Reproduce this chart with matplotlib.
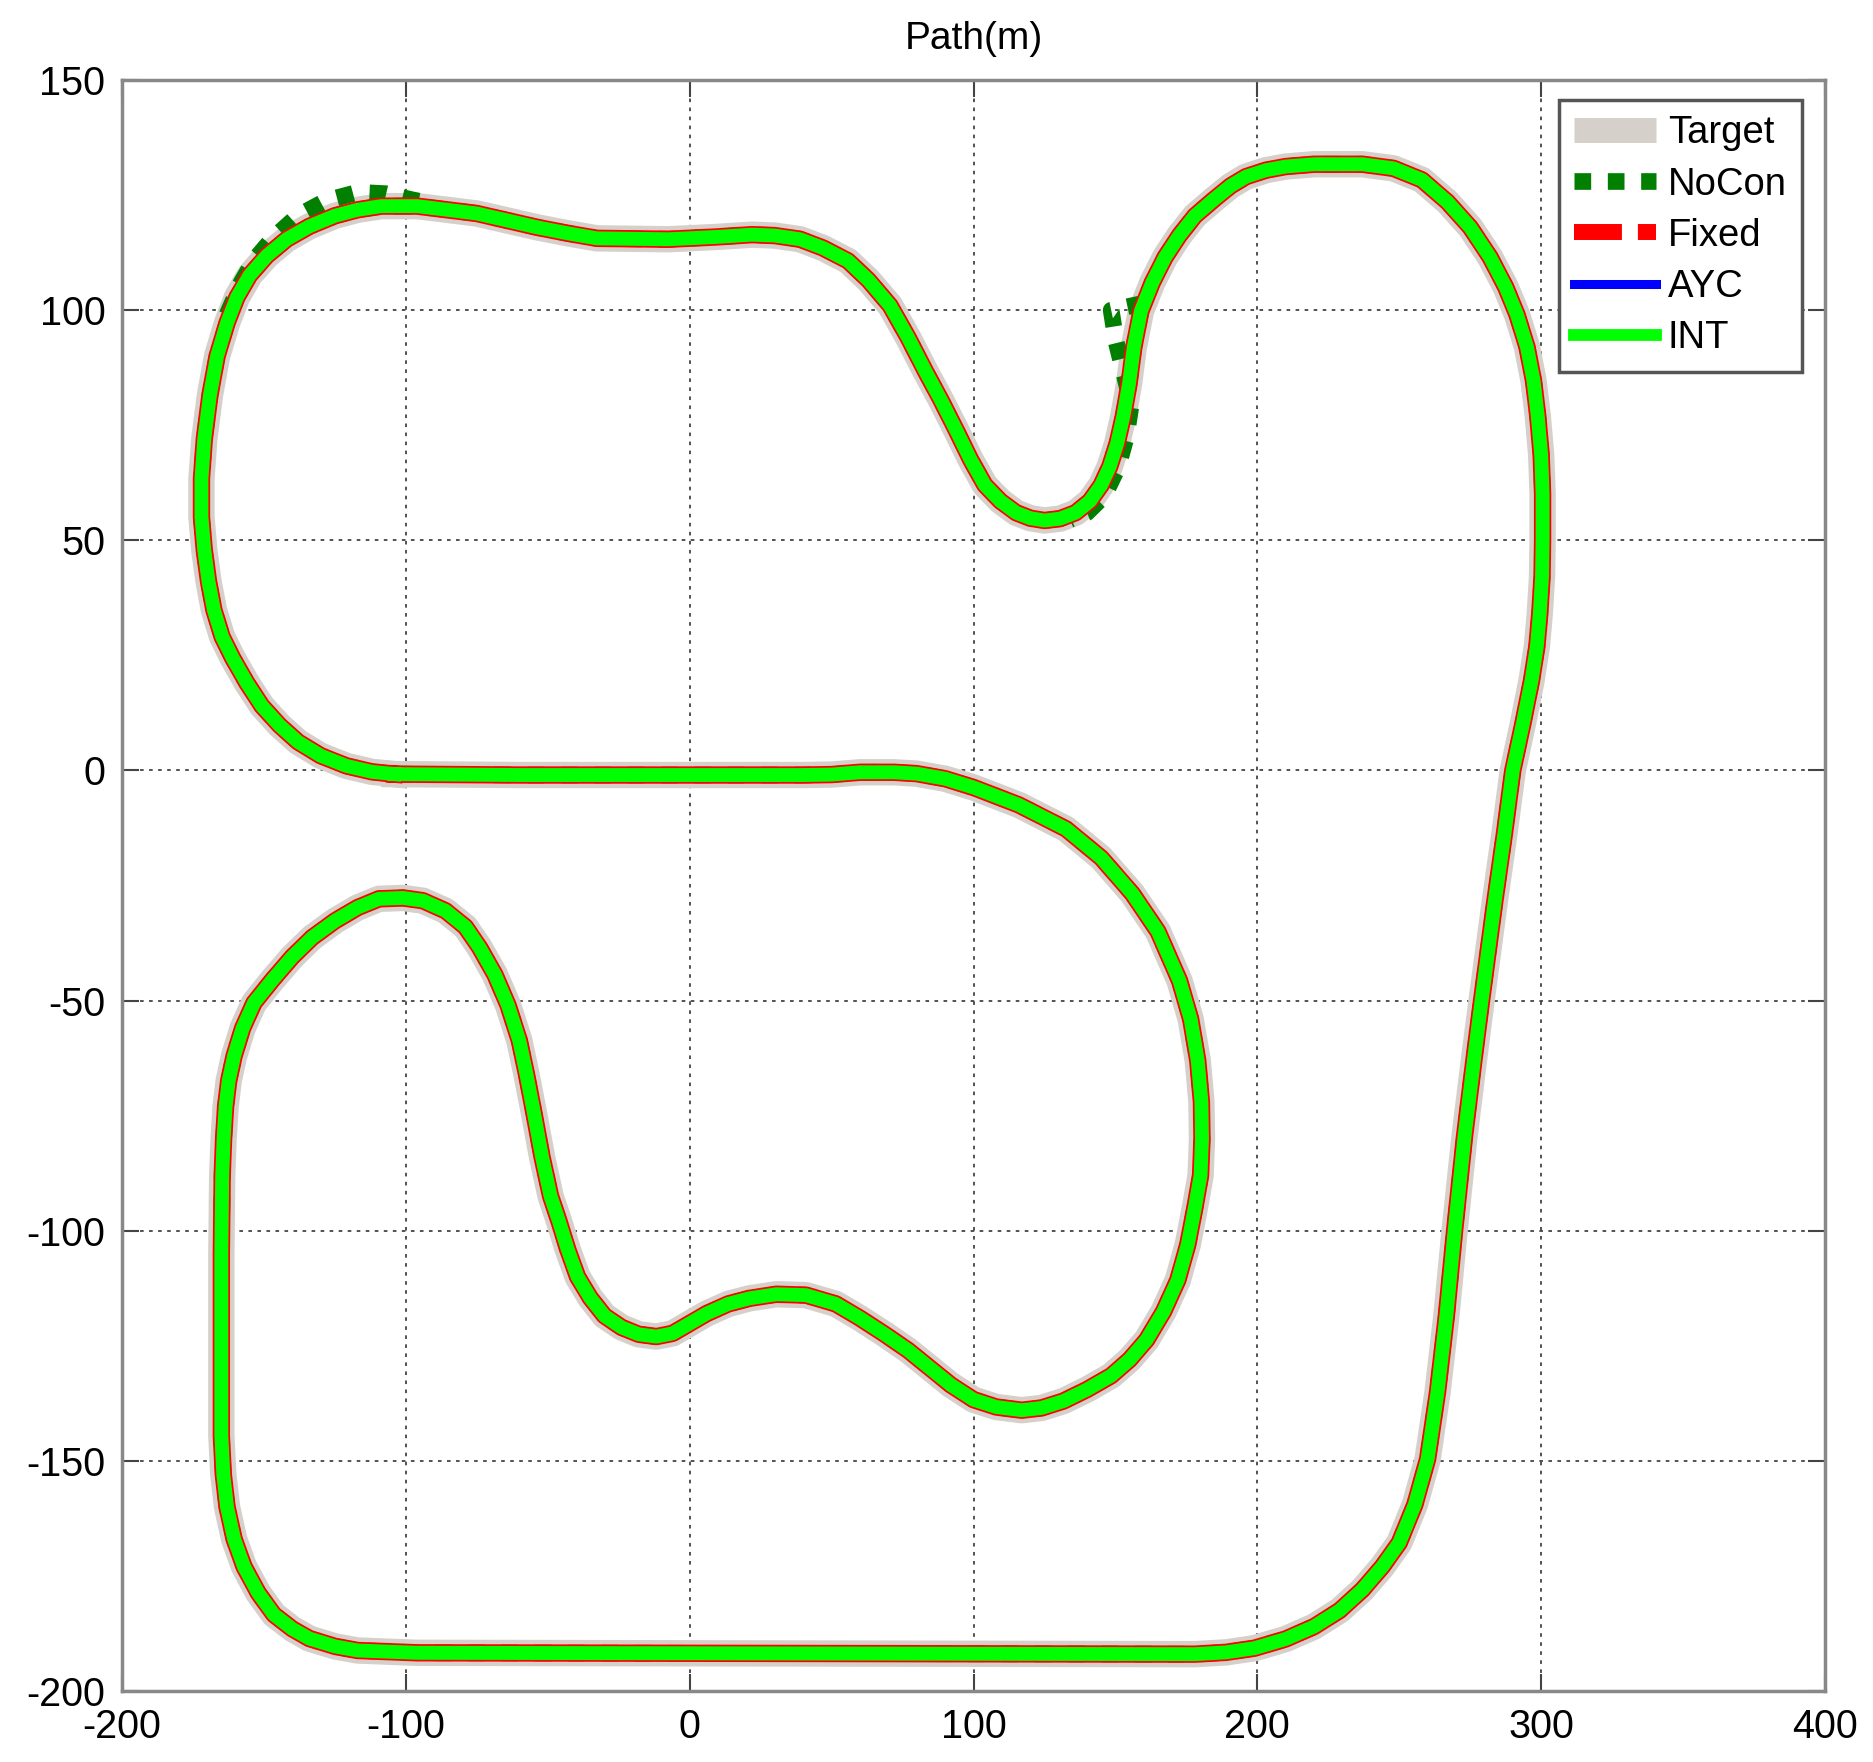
import numpy as np
import matplotlib
matplotlib.use("Agg")
import matplotlib.pyplot as plt
from matplotlib.lines import Line2D

plt.rcParams['font.family'] = ['Liberation Sans', 'DejaVu Sans']
plt.rcParams['axes.unicode_minus'] = False

# centre line of the loop (INT)
path_x = [-104, -60, 0, 40, 50, 60, 72, 80, 90, 100, 116, 132.6, 145, 156, 165, 172.6, 176.5, 179,
          180.3, 180.5, 180, 178, 175.5, 172, 167, 161, 155, 148.5, 140, 131.7, 124, 117, 108, 100,
          92, 85, 77, 68.5, 60, 51.5, 41, 30.5, 21, 13.6, 6, -1, -6, -11.7, -18, -24, -30, -35,
          -39.5, -43, -46, -49, -52, -55, -57.5, -60, -64, -68.6, -74, -79, -86, -94, -101, -109.5,
          -117, -125, -133, -140, -147, -153.5, -157.5, -160.5, -162.4, -163.5, -164.2, -164.7,
          -165, -165, -164.3, -163, -160.5, -157, -152, -146.5, -140, -134, -125, -117, -96, 178,
          189, 199, 210, 220, 229, 237, 244, 250, 255.5, 260, 263.5, 266.6, 269.5, 273, 276.5, 279,
          283.7, 287, 290, 293.5, 296.6, 298.5, 299.5, 300.3, 300.5, 300.5, 300, 298.8, 297.3, 295,
          291.5, 287.5, 282, 275, 267, 258, 248, 237, 220, 210, 203, 196, 190.6, 185, 178, 172.5,
          167.5, 163, 159, 156.5, 154.8, 152.8, 150.6, 148, 145, 141, 136, 130.5, 125, 120, 115,
          109.5, 104, 99, 94, 88.5, 83, 77, 70.6, 63, 55.8, 47, 38.9, 30, 22, 9.4, -7.5, -32.7, -43,
          -53.8, -75, -96, -108.6, -117, -125, -134, -142, -149, -155, -159.5, -163, -166.5, -169,
          -171, -172, -172, -171, -169.5, -167.6, -164.7, -161, -156, -150.7, -144.5, -138, -130,
          -121, -112, -104]
path_y = [-0.8, -1, -1, -1, -0.9, -0.4, -0.4, -0.7, -1.8, -3.7, -7.5, -12.7, -19, -26.8, -35, -45.7,
          -54, -63, -72, -80, -88, -95, -103, -110.7, -117.5, -123.7, -128, -131.5, -134.5, -137,
          -138.5, -139, -138.3, -136.7, -133.5, -130, -126, -122.4, -119, -115.9, -114, -113.8,
          -114.7, -115.9, -118, -120.5, -122.3, -123, -122.5, -121, -118.5, -114.6, -110, -104, -98,
          -92.5, -84, -74, -66, -58.7, -51, -44.4, -38.5, -34, -30.5, -28.3, -27.7, -27.9, -29.8,
          -32.7, -36.3, -40.5, -45.5, -50.5, -56, -62, -67.4, -73, -80, -88, -105, -144.5, -153, -160,
          -167, -173, -178.7, -183.4, -186.5, -188.6, -190.3, -191.2, -191.7, -192, -191.6, -190.7,
          -188.7, -186, -182.5, -178, -173, -167.8, -159.5, -149.6, -135, -118.5, -100, -79.5, -62,
          -50, -28.3, -14, 0, 10, 19.5, 27, 34, 42, 50, 60, 68.6, 77, 84.7, 92, 99, 105, 111.5, 118,
          123.5, 128.3, 130.8, 131.7, 131.7, 131.2, 130.4, 129, 127, 124.2, 120.5, 116.2, 111.5,
          106, 99.8, 92, 84, 77, 71, 66, 62, 58.5, 56, 54.7, 54.3, 54.8, 56, 58.5, 62, 67.5, 73.8,
          80.5, 86.8, 94, 101, 106.5, 110.7, 113.5, 115.4, 116.2, 116.4, 115.9, 115.4, 115.6, 116.7,
          118, 121, 122.6, 122.6, 121.8, 120.5, 118.2, 115.4, 111.8, 107.6, 102.8, 97.2, 90, 81.6,
          72, 63.4, 55, 47.8, 41, 34.8, 29, 24.4, 19, 14, 9.8, 6.2, 3.2, 1, -0.3, -0.8]

# places where the NoCon run leaves the loop
nocon_a_x = [-163, -158, -153.5, -147, -138, -128, -117, -107, -98, -90]
nocon_a_y = [99, 106, 110.8, 115.5, 120.5, 123.8, 125.6, 125.3, 124, 123]
nocon_b_x = [160, 148.5, 150.3, 155.6, 153.8, 150.9, 146.1, 140, 134]
nocon_b_y = [101.5, 100, 93, 79.7, 72.4, 65.9, 59.7, 56, 54.5]

labels = ['Target', 'NoCon', 'Fixed', 'AYC', 'INT']

fig = plt.figure(figsize=(18.74, 17.62), dpi=100)
ax = fig.add_axes([122/1874, 1 - 1691/1762, (1825-122)/1874, (1691-80)/1762])

nocon_style = dict(color='#007f00', lw=12, ls=(0, (1, 1)), dash_capstyle='butt')
ax.plot(path_x, path_y, color='#d6d0ca', lw=19, solid_joinstyle='round')
ax.plot(path_x, path_y, **nocon_style)
ax.plot(nocon_a_x, nocon_a_y, **nocon_style)
ax.plot(nocon_b_x, nocon_b_y, **nocon_style)
ax.plot(path_x, path_y, color='#ff0000', lw=12.5, solid_joinstyle='round')
ax.plot(path_x, path_y, color='#0000ff', lw=7, solid_joinstyle='round')
ax.plot(path_x, path_y, color='#00ff00', lw=10, solid_joinstyle='round')

handles = [Line2D([], [], color='#d6d0ca', lw=18, solid_capstyle='butt'),
           Line2D([], [], **nocon_style),
           Line2D([], [], color='#ff0000', lw=11.5, ls=(0, (3, 1)), dash_capstyle='butt'),
           Line2D([], [], color='#0000ff', lw=6.5),
           Line2D([], [], color='#00ff00', lw=8.5)]

ax.set_xlim(-200, 400)
ax.set_ylim(-200, 150)
ax.set_xticks(np.arange(-200, 401, 100))
ax.set_yticks(np.arange(-200, 151, 50))
ax.grid(True, color='#444444', ls=(0, (2, 3)), lw=1.3)
ax.tick_params(direction='in', length=12, width=1.5, color='#444444', labelsize=28.5,
               top=True, right=True, pad=12)
for s in ax.spines.values():
    s.set_color('#888888')
    s.set_linewidth(2.5)

ax.set_title('Path(m)', fontsize=28, pad=22)

leg = ax.legend(handles, labels, loc='upper right', bbox_to_anchor=(1802/1874, 1 - 100/1762),
                bbox_transform=fig.transFigure, borderaxespad=0, fontsize=27.5,
                handlelength=2.15, handletextpad=0.3, labelspacing=0.4,
                fancybox=False, framealpha=1, borderpad=0.4)
leg.get_frame().set_edgecolor('#555555')
leg.get_frame().set_linewidth(2.5)

fig.savefig('out.png', dpi=100)
